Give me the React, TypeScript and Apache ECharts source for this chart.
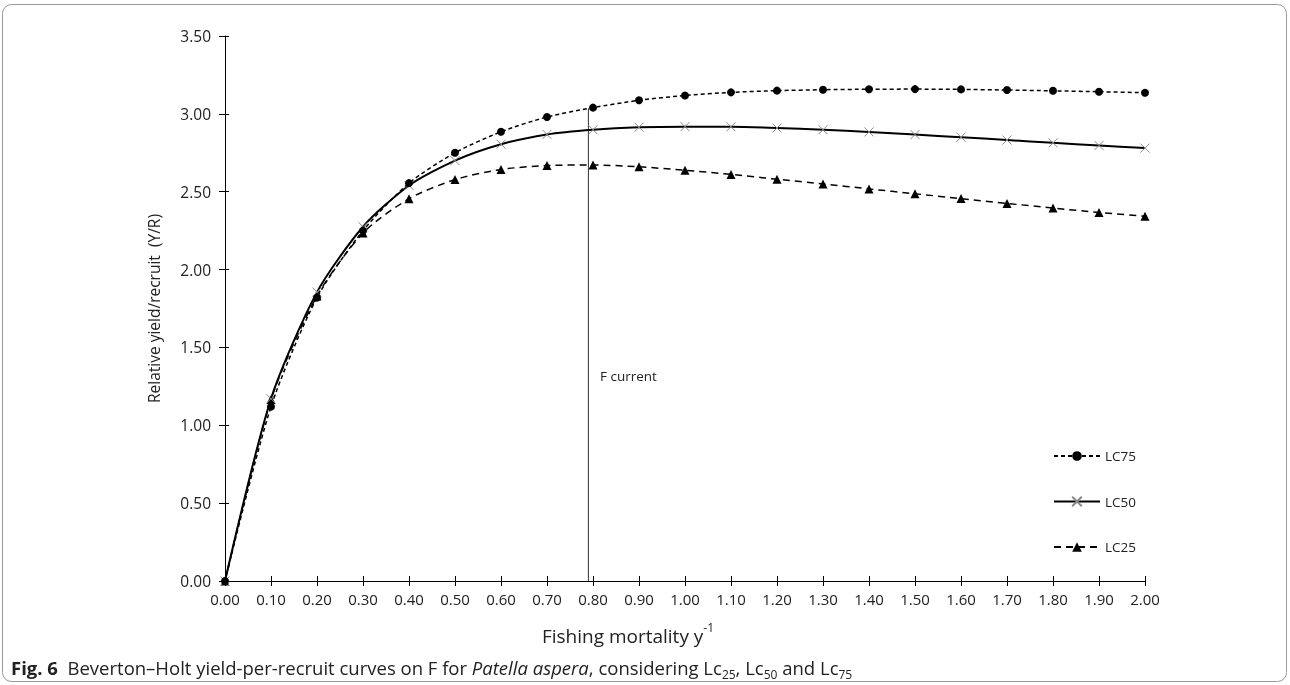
import React, { useEffect, useRef } from "react";
import * as echarts from "echarts";

const fishingMortality = [0, 0.1, 0.2, 0.3, 0.4, 0.5, 0.6, 0.7, 0.8, 0.9, 1.0, 1.1, 1.2, 1.3, 1.4, 1.5, 1.6, 1.7, 1.8, 1.9, 2.0];
const lc75 = [0, 1.12, 1.82, 2.25, 2.555, 2.75, 2.885, 2.98, 3.04, 3.087, 3.118, 3.138, 3.149, 3.155, 3.158, 3.159, 3.157, 3.153, 3.148, 3.142, 3.136];
const lc50 = [0, 1.17, 1.855, 2.275, 2.54, 2.7, 2.805, 2.868, 2.898, 2.914, 2.918, 2.917, 2.909, 2.898, 2.884, 2.867, 2.85, 2.832, 2.814, 2.797, 2.78];
const lc25 = [0, 1.165, 1.83, 2.235, 2.455, 2.578, 2.643, 2.668, 2.672, 2.66, 2.638, 2.611, 2.58, 2.55, 2.518, 2.487, 2.456, 2.425, 2.395, 2.367, 2.342];
const fCurrent = 0.79;
const fCurrentTop = 3.035;

const FONT = "'Open Sans', 'Noto Sans', sans-serif";

export default function App() {
  const ref = useRef<HTMLDivElement>(null);
  useEffect(() => {
    document.body.style.margin = "0";
    const chart = echarts.init(ref.current!, null, { renderer: "svg" });
    const pair = (ys: number[]) => fishingMortality.map((x, i) => [x, ys[i]]);
    const xBase = {
      type: "value", min: 0, max: 2, interval: 0.1, position: "bottom",
      splitLine: { show: false },
    };
    const yBase = {
      type: "value", min: 0, max: 3.5, interval: 0.5, position: "left",
      splitLine: { show: false },
    };
    chart.setOption({
      animation: false,
      textStyle: { fontFamily: FONT },
      grid: { left: 225, right: 145, top: 36, bottom: 104, containLabel: false },
      xAxis: [
        {
          ...xBase,
          axisLine: { show: true, onZero: false, lineStyle: { color: "#000", width: 1 } },
          axisTick: { show: true, inside: false, length: 5, lineStyle: { color: "#000" } },
          axisLabel: { margin: 10, fontSize: 15, color: "#222", fontFamily: FONT, formatter: (v: number) => v.toFixed(2) },
          name: "{n|Fishing mortality y}{s|-1}",
          nameLocation: "middle",
          nameGap: 40,
          nameTextStyle: {
            padding: [0, 114, 0, 0],
            rich: {
              n: { fontSize: 19, color: "#222", fontFamily: FONT, verticalAlign: "bottom", lineHeight: 24 },
              s: { fontSize: 12, color: "#222", fontFamily: FONT, verticalAlign: "top", lineHeight: 24 },
            },
          },
        },
        {
          ...xBase,
          axisLine: { show: false, onZero: false },
          axisTick: { show: true, inside: true, length: 5, lineStyle: { color: "#000" } },
          axisLabel: { show: false },
        },
      ],
      yAxis: [
        {
          ...yBase,
          axisLine: { show: true, onZero: false, lineStyle: { color: "#000", width: 1 } },
          axisTick: { show: true, inside: false, length: 6, lineStyle: { color: "#000" } },
          axisLabel: { margin: 14, fontSize: 15.5, color: "#222", fontFamily: FONT, formatter: (v: number) => v.toFixed(2) },
          name: "Relative yield/recruit  (Y/R)",
          nameLocation: "middle",
          nameGap: 63,
          nameTextStyle: { fontSize: 15.5, color: "#222", fontFamily: FONT },
        },
        {
          ...yBase,
          axisLine: { show: false, onZero: false },
          axisTick: { show: true, inside: true, length: 4, lineStyle: { color: "#000" } },
          axisLabel: { show: false },
        },
      ],
      legend: {
        orient: "vertical",
        left: 1053,
        top: 449,
        padding: 0,
        itemWidth: 46,
        itemHeight: 12,
        itemGap: 31.5,
        textStyle: { fontSize: 13.5, color: "#222", fontFamily: FONT },
        data: ["LC75", "LC50", "LC25"],
      },
      series: [
        {
          name: "LC75",
          type: "line",
          data: pair(lc75),
          smooth: 0.25,
          symbol: "circle",
          symbolSize: 8,
          itemStyle: { color: "#000" },
          lineStyle: { color: "#000", width: 1.5, type: [4, 3] },
          z: 4,
        },
        {
          name: "LC50",
          type: "line",
          data: pair(lc50),
          smooth: 0.25,
          symbol: "path://M0,0L10,10M10,0L0,10",
          symbolSize: 9,
          itemStyle: { color: "#888", borderColor: "#888", borderWidth: 1 },
          lineStyle: { color: "#000", width: 2, type: "solid" },
          z: 3,
        },
        {
          name: "LC25",
          type: "line",
          data: pair(lc25),
          smooth: 0.25,
          symbol: "triangle",
          symbolSize: 9,
          itemStyle: { color: "#000" },
          lineStyle: { color: "#000", width: 1.5, type: [7, 5] },
          z: 2,
        },
        {
          name: "F current",
          type: "line",
          data: [[fCurrent, 0], [fCurrent, fCurrentTop]],
          symbol: "none",
          lineStyle: { color: "#333", width: 1 },
          silent: true,
          z: 1,
        },
      ],
      graphic: [
        {
          type: "rect",
          shape: { x: 2.5, y: 4.5, width: 1284, height: 677, r: 9 },
          style: { fill: "none", stroke: "#999", lineWidth: 1 },
          silent: true,
        },
        {
          type: "text",
          x: 600,
          y: 369,
          style: { text: "F current", fontSize: 13.5, fill: "#222", fontFamily: FONT },
        },
        {
          type: "text",
          x: 11,
          y: 654,
          style: {
            text: "{b|Fig. 6}  {t|Beverton–Holt yield-per-recruit curves on F for }{i|Patella aspera}{t|, considering Lc}{s|25}{t|, Lc}{s|50}{t| and Lc}{s|75}",
            fontFamily: FONT,
            fontSize: 18.5,
            fill: "#222",
            rich: {
              b: { fontWeight: "bold", fontSize: 18.5, fill: "#222", fontFamily: FONT, lineHeight: 26, verticalAlign: "middle" },
              t: { fontSize: 18.5, fill: "#222", fontFamily: FONT, lineHeight: 26, verticalAlign: "middle" },
              i: { fontStyle: "italic", fontSize: 18.5, fill: "#222", fontFamily: FONT, lineHeight: 26, verticalAlign: "middle" },
              s: { fontSize: 12, fill: "#222", fontFamily: FONT, lineHeight: 26, verticalAlign: "bottom" },
            },
          },
        },
      ],
    });
    return () => chart.dispose();
  }, []);
  return <div ref={ref} style={{ position: "fixed", left: 0, top: 0, width: 1290, height: 685 }} />;
}
